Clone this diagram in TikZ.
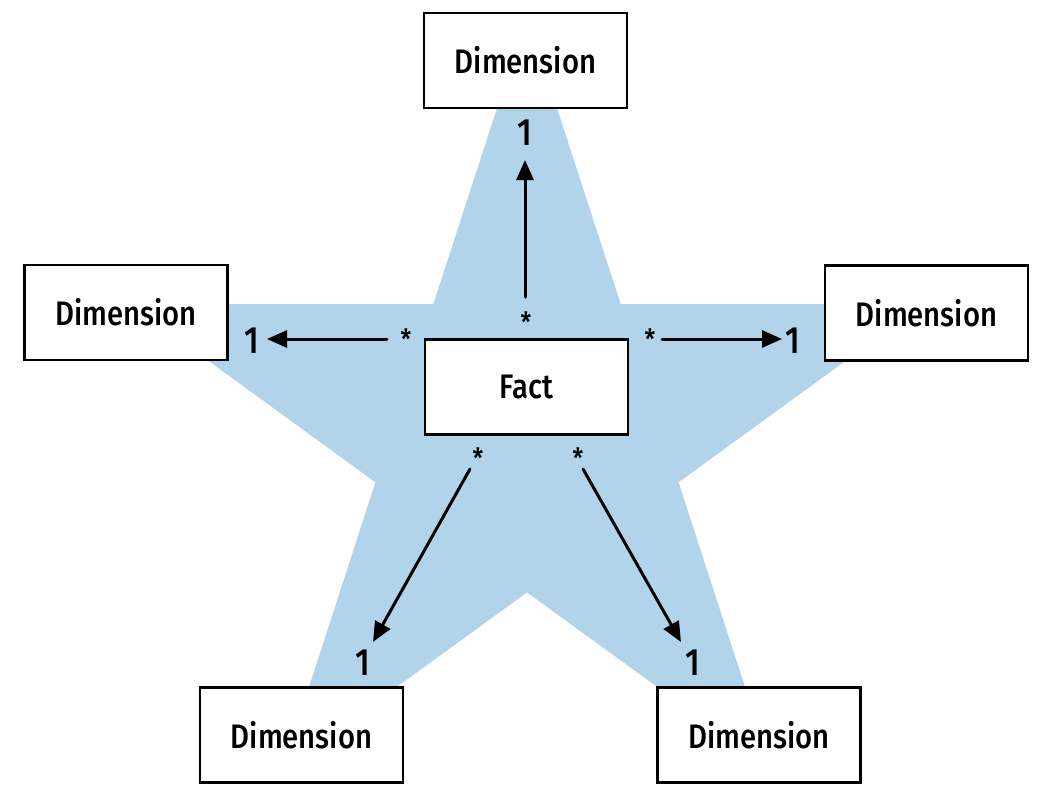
\documentclass[tikz,border=0pt]{standalone}
\usepackage{fontspec}
\setmainfont{Fira Sans}[FakeStretch=0.86, BoldFont=* Medium]
\usetikzlibrary{arrows.meta}
\definecolor{starblue}{RGB}{178,212,234}
\begin{document}
\begin{tikzpicture}[x=1pt,y=-1pt,
  box/.style={draw, line width=2.6pt, fill=white, minimum width=203pt, minimum height=95pt, inner sep=0pt, font=\fontsize{34}{40}\selectfont\bfseries},
  arr/.style={line width=3pt, line cap=round, -{Triangle[length=20pt,width=17pt]}},
  one/.style={inner sep=0pt, font=\fontsize{38}{44}\selectfont\bfseries},
  many/.style={inner sep=0pt, anchor=north, font=\fontsize{28}{32}\selectfont\bfseries}]
\useasboundingbox (0,0) rectangle (1060,796);
% star
\fill[starblue] (527,16) -- (620.7,304) -- (923.6,304.1) -- (678.6,482.3) -- (772.1,770.4)
  -- (527,592.4) -- (281.9,770.4) -- (375.4,482.3) -- (130.4,304.1) -- (433.3,304) -- cycle;
% boxes
\node[box] (top) at (525.5,60.5) {Dimension};
\node[box] (left) at (126,312.5) {Dimension};
\node[box] (right) at (926.5,313) {Dimension};
\node[box] (bl) at (301.5,735) {Dimension};
\node[box] (br) at (759,735) {Dimension};
\node[box] (fact) at (526.5,387) {Fact};
% multiplicity labels
\node[one] (o1) at (525,133) {1};
\node[one] (o2) at (252,341) {1};
\node[one] (o3) at (793,341) {1};
\node[one] (o4) at (363,663) {1};
\node[one] (o5) at (693,663) {1};
\node[many] (m1) at (526,312) {*};
\node[many] (m2) at (406,329) {*};
\node[many] (m3) at (650,329) {*};
\node[many] (m4) at (478,448) {*};
\node[many] (m5) at (578,448) {*};
% arrow end points
\coordinate (a1s) at (525,297); \coordinate (a1e) at (525,160);
\coordinate (a2s) at (387,339); \coordinate (a2e) at (267,339);
\coordinate (a3s) at (662,339); \coordinate (a3e) at (782,339);
\coordinate (a4s) at (470,469); \coordinate (a4e) at (373,642);
\coordinate (a5s) at (583,469); \coordinate (a5e) at (681,642);
\draw[arr] (a1s) -- (a1e);
\draw[arr] (a2s) -- (a2e);
\draw[arr] (a3s) -- (a3e);
\draw[arr] (a4s) -- (a4e);
\draw[arr] (a5s) -- (a5e);
\end{tikzpicture}
\end{document}
